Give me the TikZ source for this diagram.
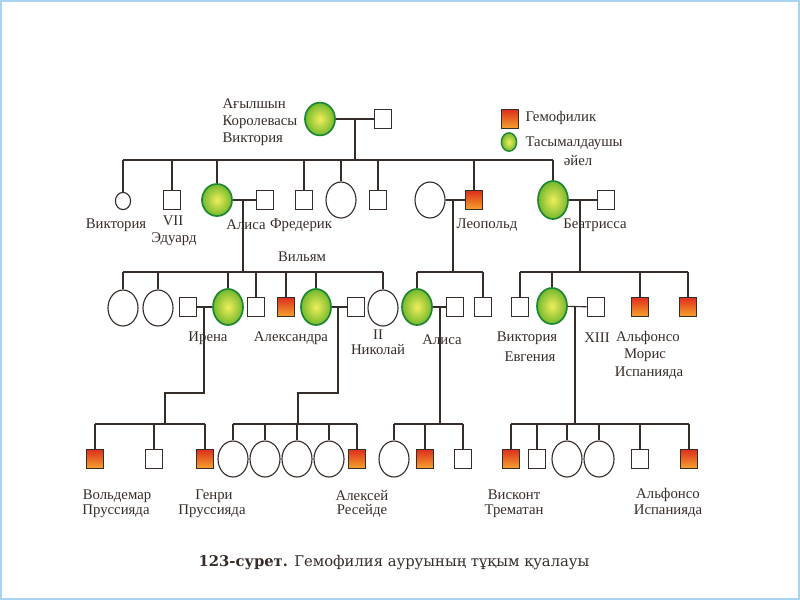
\documentclass[tikz,border=0pt]{standalone}
\usepackage{fontspec}
\setmainfont{Liberation Serif}
\newfontfamily\capfont{DejaVu Serif}
\usetikzlibrary{shapes.geometric}

\definecolor{linec}{RGB}{55,45,40}
\definecolor{carrline}{RGB}{30,135,50}
\definecolor{carrin}{RGB}{240,238,90}
\definecolor{carrout}{RGB}{115,185,45}
\definecolor{hemotop}{RGB}{220,45,28}
\definecolor{hemobot}{RGB}{246,165,45}
\definecolor{framec}{RGB}{170,212,242}

\begin{document}
\begin{tikzpicture}[
            x=0.025cm, y=-0.025cm,       % 1 unit = 1 px
            thick,
            color=linec,
            every node/.style={
                inner sep=0pt,
                font=\fontsize{10.5}{12}\selectfont
            },
            man/.style={rectangle, draw=linec, fill=white, minimum width=0.44cm, minimum height=0.49cm},
            woman/.style={ellipse, draw=linec, fill=white, minimum width=0.75cm, minimum height=0.9cm},
            hemo/.style={man, top color=hemotop, bottom color=hemobot},
            carrier/.style={woman, draw=carrline, line width=1.2pt, inner color=carrin, outer color=carrout}
        ]
            \useasboundingbox (0,0) rectangle (800,600);
            \fill[white] (0,0) rectangle (800,600);
            \draw[framec, line width=2pt] (1,1) rectangle (799,599);

            % I
            \node[carrier, minimum height=0.82cm] (1) at (320,119) {};
            \node[man] (2) at (383,119) {};
            \node[align=left, anchor=west] (t1) at (222,122) {Ағылшын\\Королевасы\\Виктория};

            % II
            \node[woman, minimum width=0.38cm, minimum height=0.43cm] (3) at (123,201) {};
            \node[man] (4) at (172,200) {};
            \node[carrier, minimum height=0.8cm] (5) at (217,200) {};
            \node[man] (6) at (265,200) {};
            \node[man] (7) at (304,200) {};
            \node[woman] (8) at (341,200) {};
            \node[man] (9) at (378,200) {};
            \node[woman] (10) at (430,200) {};
            \node[hemo] (11) at (474,200) {};
            \node[carrier, minimum height=0.95cm] (12) at (553,200) {};
            \node[man] (13) at (606,200) {};

            \node (t2) at (116,225) {Виктория};
            \node (t3) at (173,221) {VII};
            \node (t4) at (174,239) {Эдуард};
            \node (t5) at (246,225) {Алиса};
            \node (t6) at (301,225) {Фредерик};
            \node (t7) at (487,225) {Леопольд};
            \node (t8) at (595,225) {Беатрисса};

            % III
            \node[woman] (14) at (123,308) {};
            \node[woman] (15) at (158,308) {};
            \node[man] (16) at (188,307) {};
            \node[carrier] (17) at (228,307) {};
            \node[man] (18) at (256,307) {};
            \node[hemo] (19) at (286,307) {};
            \node[carrier] (20) at (316,307) {};
            \node[man] (21) at (356,307) {};
            \node[woman] (22) at (383,308) {};
            \node[carrier] (23) at (417,307) {};
            \node[man] (24) at (455,307) {};
            \node[man] (25) at (483,307) {};
            \node[man] (26) at (520,307) {};
            \node[carrier] (27) at (552,306) {};
            \node[man] (28) at (596,307) {};
            \node[hemo] (29) at (640,307) {};
            \node[hemo] (30) at (688,307) {};

            \node (t9) at (302,257) {Вильям};
            \node (t10) at (208,338) {Ирена};
            \node (t11) at (291,338) {Александра};
            \node (t12) at (378,335) {II};
            \node (t13) at (378,350) {Николай};
            \node (t14) at (442,340) {Алиса};
            \node (t15) at (527,338) {Виктория};
            \node (t16) at (530,357) {Евгения};
            \node (t17) at (597,338) {XIII};
            \node (t18) at (648,338) {Альфонсо};
            \node (t19) at (645,355) {Морис};
            \node (t20) at (649,373) {Испанияда};

            % IV
            \node[hemo] (31) at (95,459) {};
            \node[man] (32) at (154,459) {};
            \node[hemo] (33) at (205,459) {};
            \node[woman] (34) at (233,459) {};
            \node[woman] (35) at (265,459) {};
            \node[woman] (36) at (297,459) {};
            \node[woman] (37) at (329,459) {};
            \node[hemo] (38) at (357,459) {};
            \node[woman] (39) at (394,459) {};
            \node[hemo] (40) at (425,459) {};
            \node[man] (41) at (463,459) {};
            \node[hemo] (42) at (511,459) {};
            \node[man] (43) at (537,459) {};
            \node[woman] (44) at (567,459) {};
            \node[woman] (45) at (599,459) {};
            \node[man] (46) at (640,459) {};
            \node[hemo] (47) at (689,459) {};

            \node (t21) at (117,496) {Вольдемар};
            \node (t22) at (116,511) {Пруссияда};
            \node (t23) at (214,496) {Генри};
            \node (t24) at (212,511) {Пруссияда};
            \node (t25) at (362,496) {Алексей};
            \node (t26) at (362,511) {Ресейде};
            \node (t27) at (514,495) {Висконт};
            \node (t28) at (514,511) {Трематан};
            \node (t29) at (668,495) {Альфонсо};
            \node (t30) at (668,511) {Испанияда};

            % legend
            \node[hemo] (48) at (510,119) {};
            \node[carrier, line width=1pt, minimum width=0.38cm, minimum height=0.46cm] (49) at (509,142) {};
            \node[anchor=west] (t31) at (525,118) {Гемофилик};
            \node[anchor=west] (t32) at (525,143) {Тасымалдаушы};
            \node (t33) at (578,161) {әйел};

            \node (t34) at (394,563) {\capfont\fontsize{10.5}{12}\selectfont\textbf{123-сурет.} Гемофилия ауруының тұқым қуалауы};

            % marriages
            \draw (1) -- (2);
            \draw (5) -- (6);
            \draw (10) -- (11);
            \draw (12) -- (13);
            \draw (16) -- (17);
            \draw (20) -- (21);
            \draw (23) -- (24);
            \draw (27) -- (28);

            % descents
            \coordinate (m1) at (355,119);  \coordinate (b1) at (355,160);
            \coordinate (m2) at (243,200);  \coordinate (b2) at (243,272);
            \coordinate (m3) at (453,200);  \coordinate (b3) at (453,272);
            \coordinate (m4) at (580,200);  \coordinate (b4) at (580,272);
            \coordinate (m5) at (204,307);  \coordinate (e5) at (165,393);  \coordinate (b5) at (165,424);
            \coordinate (m6) at (338,307);  \coordinate (e6) at (298,393);  \coordinate (b6) at (298,424);
            \coordinate (m7) at (440,307);  \coordinate (b7) at (440,424);
            \coordinate (m8) at (575,307);  \coordinate (b8) at (575,424);

            \draw (m1) -- (b1);
            \draw (m2) -- (b2);
            \draw (m3) -- (b3);
            \draw (m4) -- (b4);
            \draw (m5) |- (e5) -- (b5);
            \draw (m6) |- (e6) -- (b6);
            \draw (m7) -- (b7);
            \draw (m8) -- (b8);

            % sibships
            \draw (b1 -| 3) -- (b1 -| 12);
            \foreach \n in {3,4,5,7,8,9,11,12}
                \draw (b1 -| \n) -- (\n);
            \draw (b2 -| 14) -- (b2 -| 22);
            \foreach \n in {14,15,17,18,19,20,22}
                \draw (b2 -| \n) -- (\n);
            \draw (b3 -| 23) -- (b3 -| 25);
            \foreach \n in {23,25}
                \draw (b3 -| \n) -- (\n);
            \draw (b4 -| 26) -- (b4 -| 30);
            \foreach \n in {26,27,29,30}
                \draw (b4 -| \n) -- (\n);
            \draw (b5 -| 31) -- (b5 -| 33);
            \foreach \n in {31,32,33}
                \draw (b5 -| \n) -- (\n);
            \draw (b6 -| 34) -- (b6 -| 38);
            \foreach \n in {34,35,36,37,38}
                \draw (b6 -| \n) -- (\n);
            \draw (b7 -| 39) -- (b7 -| 41);
            \foreach \n in {39,40,41}
                \draw (b7 -| \n) -- (\n);
            \draw (b8 -| 42) -- (b8 -| 47);
            \foreach \n in {42,43,44,45,46,47}
                \draw (b8 -| \n) -- (\n);
        \end{tikzpicture}
\end{document}
